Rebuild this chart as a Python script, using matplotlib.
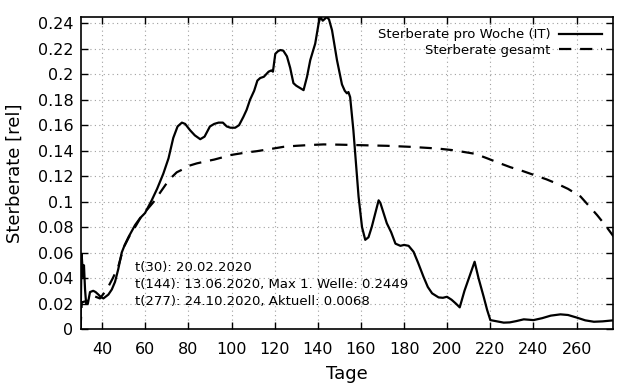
import matplotlib
matplotlib.use("Agg")
import matplotlib.pyplot as plt
from matplotlib.ticker import FuncFormatter, MultipleLocator
import numpy as np

# weekly death rate (IT)
tage_woche = [30, 30.5, 31.2, 31.6, 32.1, 32.6, 33.4, 34.4, 35.9, 37, 38.3, 39.5, 40.6,
              42.9, 44.5, 46, 47.5, 49.1, 50.5, 52.2, 53.8, 55.3, 57.6, 59.9, 63,
              65.5, 68.4, 70.8, 73, 75, 77, 78.5, 80.8, 83, 85.5, 87.5, 90, 92, 94,
              96, 97.8, 99.5, 101.7, 103.5, 105.5, 107, 108.6, 110.5, 112, 113.3,
              115, 117.2, 118.5, 119.2, 120.3, 121.5, 122.6, 124, 125.7, 127.2,
              128.7, 130, 131, 133.4, 135, 136.5, 138.8, 140.4, 141.2, 142.3, 143.3,
              144.2, 145.2, 146.6, 148.9, 151.2, 152.5, 153.5, 154.2, 155, 156.5,
              157.7, 158.9, 160.5, 162, 163.5, 165, 166.5, 168.2, 169, 170.5, 172,
              174, 176, 178.3, 180, 182.1, 184.4, 186.5, 189, 191, 193, 196, 198,
              199.9, 202, 204, 205.8, 208, 210.5, 212.7, 214.5, 216.9, 218.5, 220,
              223, 226.2, 229, 232, 235.5, 240, 244, 248, 252.5, 256, 260, 264,
              268, 272, 277]
rate_woche = [0.002, 0.059, 0.041, 0.050, 0.031, 0.020, 0.020, 0.029, 0.030, 0.029,
              0.027, 0.025, 0.024, 0.027, 0.031, 0.037, 0.047, 0.060, 0.066, 0.072,
              0.077, 0.0816, 0.087, 0.091, 0.101, 0.110, 0.122, 0.134, 0.150, 0.159,
              0.162, 0.161, 0.156, 0.152, 0.149, 0.151, 0.159, 0.161, 0.162, 0.162,
              0.159, 0.158, 0.158, 0.160, 0.1665, 0.172, 0.180, 0.187, 0.195, 0.197,
              0.198, 0.202, 0.203, 0.202, 0.216, 0.218, 0.219, 0.2185, 0.214, 0.205,
              0.193, 0.191, 0.190, 0.1875, 0.198, 0.211, 0.224, 0.240, 0.2449, 0.242,
              0.2435, 0.2449, 0.243, 0.2345, 0.211, 0.192, 0.187, 0.185, 0.186, 0.182,
              0.156, 0.130, 0.104, 0.080, 0.070, 0.072, 0.080, 0.090, 0.101, 0.099,
              0.091, 0.083, 0.076, 0.067, 0.0653, 0.066, 0.0653, 0.0606, 0.052, 0.041,
              0.033, 0.028, 0.0248, 0.0245, 0.0253, 0.023, 0.020, 0.017, 0.030, 0.042,
              0.0528, 0.040, 0.0253, 0.015, 0.007, 0.006, 0.005, 0.0052, 0.0062,
              0.0076, 0.007, 0.0085, 0.0105, 0.0115, 0.011, 0.009, 0.0068, 0.0057,
              0.006, 0.0068]

# overall death rate
tage_gesamt = [30, 30.6, 33, 36, 39, 42.2, 45, 47.5, 50, 53, 55.3, 59.1, 61, 64,
               67.7, 71, 74.6, 77, 80, 83.9, 88.6, 92, 95.5, 99.4, 103, 107, 111.8,
               119.5, 124.1, 130, 136, 142.7, 150, 159.7, 172.1, 182.9, 195.3, 202,
               207.6, 213, 218.5, 223, 229.3, 235, 240.1, 246, 251, 256, 261.8, 265.5,
               269.5, 273.5, 277.2]
rate_gesamt = [0.0, 0.021, 0.022, 0.026, 0.024, 0.031, 0.040, 0.049, 0.064, 0.074,
               0.080, 0.091, 0.094, 0.100, 0.109, 0.117, 0.123, 0.125, 0.128, 0.130,
               0.1318, 0.133, 0.1346, 0.1365, 0.1375, 0.1386, 0.1396, 0.1417, 0.143,
               0.1438, 0.1444, 0.1449, 0.1447, 0.1443, 0.1438, 0.143, 0.1417, 0.1405,
               0.139, 0.1375, 0.134, 0.131, 0.127, 0.124, 0.121, 0.1175, 0.114, 0.110,
               0.104, 0.097, 0.0894, 0.081, 0.0724]

xticks = list(range(40, 261, 20))

fig = plt.figure(figsize=(6.4, 3.84), dpi=100)
ax = fig.add_axes([0.1258, 0.1432, 0.8325, 0.8125])

ax.plot(tage_woche, rate_woche, color="black", lw=1.6, label="Sterberate pro Woche (IT)")
ax.plot(tage_gesamt, rate_gesamt, color="black", lw=1.6, dashes=(5.5, 4),
        label="Sterberate gesamt")

ax.set_xlim(30, 277)
ax.set_ylim(0, 0.2449)
ax.set_xticks(xticks)
ax.yaxis.set_major_locator(MultipleLocator(0.02))
ax.yaxis.set_major_formatter(FuncFormatter(lambda v, p: "%g" % round(v, 4)))

ax.grid(True, color="#a0a0a0", linestyle=(0, (1, 3)), linewidth=0.8)
ax.tick_params(direction="in", top=True, right=True, length=5, width=1,
               labelsize=11.5)
ax.tick_params(axis="x", pad=9)
ax.tick_params(axis="y", pad=5)
for s in ax.spines.values():
    s.set_linewidth(1.2)

ax.set_xlabel("Tage", fontsize=13, labelpad=6)
ax.set_ylabel("Sterberate [rel]", fontsize=13, labelpad=10)

leg = ax.legend(loc="upper right", frameon=False, markerfirst=False, fontsize=9.5,
                handlelength=3.3, borderaxespad=0.45, labelspacing=0.2,
                handletextpad=0.6)

ax.text(0.102, 0.218,
        "t(30): 20.02.2020\n"
        "t(144): 13.06.2020, Max 1. Welle: 0.2449\n"
        "t(277): 24.10.2020, Aktuell: 0.0068",
        transform=ax.transAxes, fontsize=9.5, va="top", ha="left", linespacing=1.38)

fig.savefig("out.png", dpi=100)
